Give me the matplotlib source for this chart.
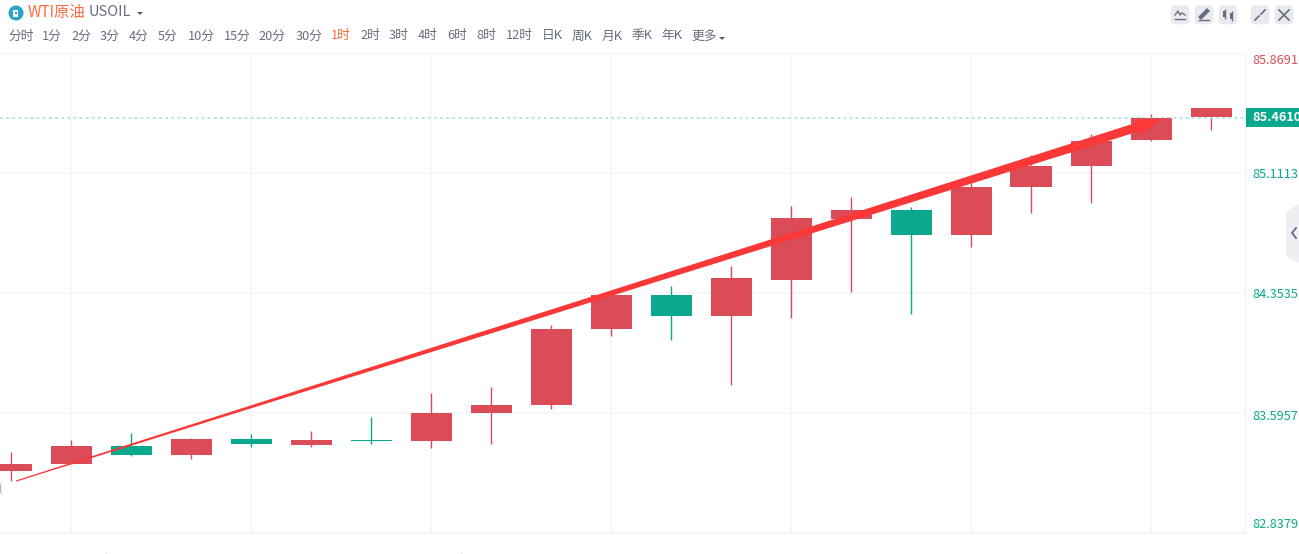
import matplotlib
matplotlib.use("Agg")
import matplotlib.pyplot as plt
from matplotlib.patches import Polygon, FancyBboxPatch, Circle, Rectangle
import numpy as np

plt.rcParams['font.family'] = ['Noto Sans CJK SC', 'DejaVu Sans']

W, H = 1299, 554
opens  = [83.229,83.273,83.330,83.330,83.400,83.394,83.419,83.419,83.596,83.646,84.126,84.208,84.208,84.436,84.821,84.720,84.720,85.023,85.156,85.320,85.465]
closes = [83.273,83.387,83.387,83.431,83.431,83.425,83.425,83.596,83.646,84.126,84.341,84.341,84.448,84.827,84.878,84.878,85.023,85.156,85.313,85.459,85.522]
highs  = [83.349,83.425,83.469,83.438,83.463,83.482,83.570,83.722,83.760,84.152,84.341,84.398,84.524,84.903,84.960,84.897,85.048,85.225,85.358,85.484,85.522]
lows   = [83.166,83.273,83.324,83.305,83.381,83.381,83.400,83.375,83.400,83.621,84.082,84.057,83.773,84.196,84.360,84.221,84.644,84.859,84.922,85.313,85.383]
green  = [2,4,6,11,15]
ytick_vals = [82.8379,83.5957,84.3535,85.1113,85.8691]
ytick_labels = ["82.8379","83.5957","84.3535","85.1113","85.8691"]
last_price = 85.4610
arrow_start = (0.083, 83.166)
arrow_end = (19.18, 85.450)
vgrid_idx = [1,4,7,10,13,16,19]
periods = ["分时","1分","2分","3分","4分","5分","10分","15分","20分","30分","1时","2时","3时","4时","6时","8时","12时","日K","周K","月K","季K","年K","更多"]
period_x = [21,52,81,110,139,168,201,237,272,309,341,370,399,428,457,486,519,552,582,612,642,672,704]

RED, GRN = "#dc4c58", "#0aa88c"
fig = plt.figure(figsize=(W/100, H/100), dpi=100, facecolor="white")
ax = fig.add_axes([0, 1-533/H, 1245/W, 480/H])
ax.set_xlim(-11/60, 1234/60)
ax.set_ylim(82.8379, 85.8691)
for s in ax.spines.values():
    s.set_visible(False)
ax.spines['right'].set_visible(True); ax.spines['right'].set_color("#f3f4f6")
ax.spines['top'].set_visible(True); ax.spines['top'].set_color("#f3f4f6")
ax.spines['bottom'].set_visible(True); ax.spines['bottom'].set_color("#f3f4f6")
ax.tick_params(length=0, labelbottom=False, labelleft=False)
ax.set_xticks(vgrid_idx)
ax.set_yticks(ytick_vals)
ax.grid(True, color="#f5f6f8", lw=1.2)
ax.set_axisbelow(True)

x = np.arange(len(opens))
for i in x:
    c = GRN if i in green else RED
    ax.vlines(i, lows[i], highs[i], color=c, lw=1, zorder=2)
    b = min(opens[i], closes[i])
    ax.bar(i, abs(closes[i]-opens[i]), bottom=b, width=41/60, color=c, zorder=3)
ax.axhline(last_price, color="#a5e3d8", lw=1.1, ls=(0, (2, 2)), zorder=2)

# Tapered arrow, built in pixel space from its two data end points
P0 = ax.transData.transform(arrow_start)
P1 = ax.transData.transform(arrow_end)
d = (P1-P0)/np.linalg.norm(P1-P0)
n = np.array([-d[1], d[0]])
L = np.linalg.norm(P1-P0)
back = P1 - d*24
pts = [P0+n*0.6, back+n*4.5, back-d*3+n*8.5, P1, back-d*3-n*8.5, back-n*4.5, P0-n*0.6]
ax.add_patch(Polygon(pts, closed=True, transform=None, color="#fb3838", lw=0, zorder=5))

ax.text(-0.19, 82.0, "", fontsize=6)

def T(px, py, s, **k):
    k.setdefault("ha", "center"); k.setdefault("va", "center")
    return fig.text(px/W, 1-py/H, s, **k)

overlay = fig.add_axes([0, 0, 1, 1], facecolor="none")
overlay.set_xlim(0, W); overlay.set_ylim(H, 0); overlay.axis("off")

# Header
overlay.add_patch(Circle((16, 13), 7.5, color="#2ba4c9", lw=0))
overlay.add_patch(Rectangle((13.5, 10), 5, 6.5, fc="white", ec="none"))
overlay.add_patch(Rectangle((15.3, 11.8), 1.4, 2.6, fc="#2ba4c9", ec="none"))
T(28, 12, "WTI原油", ha="left", fontsize=11, color="#ff6a3c")
T(89, 12, "USOIL", ha="left", fontsize=10.5, color="#666d7d")
overlay.add_patch(Polygon([(137, 12), (143, 12), (140, 15)], color="#555c6c", lw=0))
for px, s in zip(period_x, periods):
    T(px, 36, s, fontsize=9.2, color="#ff6a3c" if s == "1时" else "#666d7d")
overlay.add_patch(Polygon([(719, 37), (725, 37), (722, 40)], color="#555c6c", lw=0))

# Toolbar buttons
for bx in [1170, 1194, 1218, 1250, 1274]:
    overlay.add_patch(FancyBboxPatch((bx+2, 7), 16, 16, boxstyle="round,pad=0,rounding_size=3",
                                     fc="#e8eaf0", ec="#e8eaf0", lw=2))
ic = "#666d7d"
overlay.plot([1175,1185],[19,19], color=ic, lw=1)
overlay.plot([1175,1178,1180,1182,1185],[15,11,15,13,15], color=ic, lw=1)
overlay.plot([1199,1209],[19.5,19.5], color=ic, lw=1)
overlay.plot([1201,1207],[17,11], color=ic, lw=3)
overlay.vlines([1225,1232],[9,11],[19,21], color=ic, lw=1)
overlay.add_patch(Rectangle((1223.5,11),3,6,color=ic,lw=0))
overlay.add_patch(Rectangle((1230.5,13),3,6,color=ic,lw=0))
overlay.plot([1255,1259],[20,16], color=ic, lw=1.2)
overlay.plot([1261,1265],[14,10], color=ic, lw=1.2)
overlay.plot([1279,1289],[10,20], color=ic, lw=1.2)
overlay.plot([1279,1289],[20,10], color=ic, lw=1.2)

# Y labels: positions follow the reference's label placement
for lab, py in zip(ytick_labels, [525, 417, 295, 175, 61]):
    T(1252, py, lab, ha="left", fontsize=9.2,
      color="#dc4c58" if lab == "85.8691" else ("#444" if False else GRN))
overlay.add_patch(Rectangle((1246, 108), 53, 19, fc=GRN, ec="none"))
T(1252, 117.5, f"{last_price:.4f}", ha="left", fontsize=9.2, color="white", fontweight="bold")

# Side handle
overlay.add_patch(Polygon([(1286,212),(1299,204),(1299,263),(1286,256)], fc="#eeeff3", ec="none"))
overlay.plot([1296,1292,1296],[228,233,238], color=ic, lw=1.3)

# Cut-off marks
T(0, 489, "(", fontsize=7, color="#8a90a0", ha="center")
overlay.vlines([106, 461], 552.5, 554, color="#cccccc", lw=1)

fig.savefig("out.png", dpi=100)
